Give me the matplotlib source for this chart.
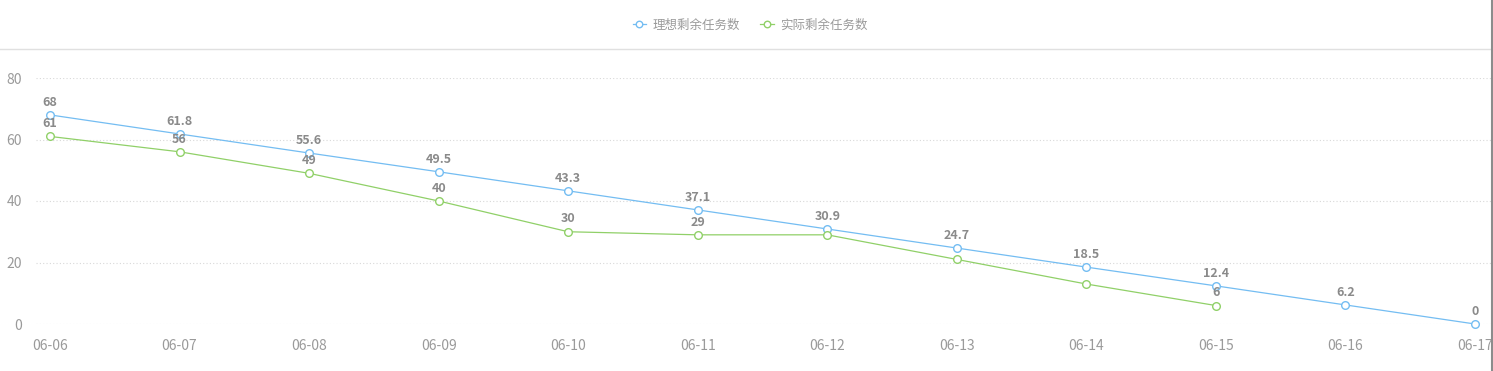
import matplotlib.pyplot as plt
from matplotlib.lines import Line2D

plt.rcParams['font.family'] = ['Noto Sans CJK SC', 'DejaVu Sans']

# ---------------------------------------------------------
# DATA
# ---------------------------------------------------------
dates = ["06-06", "06-07", "06-08", "06-09", "06-10", "06-11",
         "06-12", "06-13", "06-14", "06-15", "06-16", "06-17"]
ideal = [68, 61.8, 55.6, 49.5, 43.3, 37.1, 30.9, 24.7, 18.5, 12.4, 6.2, 0]
actual = [61, 56, 49, 40, 30, 29, 29, 21, 13, 6]
ideal_name = "理想剩余任务数"
actual_name = "实际剩余任务数"
yticks = [0, 20, 40, 60, 80]

# labels of the actual series hidden by the overlapping ideal labels
hidden_actual = [6, 7, 8]

BLUE = "#74bdf2"
GREEN = "#90d068"
LABEL_GRAY = "#8a8a8a"
TICK_GRAY = "#9a9a9a"

W, H = 1493, 371
fig = plt.figure(figsize=(W / 100, H / 100), dpi=100)
ax = fig.add_axes([36 / W, (H - 324) / H, (1491 - 36) / W, (324 - 78) / H])

x_ideal = list(range(len(ideal)))
x_actual = list(range(len(actual)))

for y in yticks:
    ax.axhline(y, color="#d8d8d8", lw=0.8, ls=(0, (1, 2)), zorder=0)

ax.plot(x_ideal, ideal, color=BLUE, lw=0.9, marker="o", ms=5.5,
        mfc="white", mec=BLUE, mew=1.0, clip_on=False, zorder=3,
        label=ideal_name)
ax.plot(x_actual, actual, color=GREEN, lw=0.9, marker="o", ms=5.5,
        mfc="white", mec=GREEN, mew=1.0, clip_on=False, zorder=3,
        label=actual_name)

for xi, v in zip(x_ideal, ideal):
    ax.annotate(f"{v:g}", (xi, v), xytext=(0, 4.5), textcoords="offset points",
                ha="center", va="bottom", fontsize=9, fontweight="bold",
                color=LABEL_GRAY, zorder=4)
for xi, v in zip(x_actual, actual):
    if xi in hidden_actual:
        continue
    ax.annotate(f"{v:g}", (xi, v), xytext=(0, 4.5), textcoords="offset points",
                ha="center", va="bottom", fontsize=9, fontweight="bold",
                color=LABEL_GRAY, zorder=4)

ax.set_xlim(-14 / 129.5, 11 + 16 / 129.5)
ax.set_ylim(0, 80)
ax.set_xticks(x_ideal)
ax.set_xticklabels(dates)
ax.set_yticks(yticks)
ax.tick_params(axis="both", length=0, colors=TICK_GRAY, labelsize=10)
ax.tick_params(axis="x", pad=11)
ax.tick_params(axis="y", pad=10)
for s in ax.spines.values():
    s.set_visible(False)

leg = fig.legend(loc="center", bbox_to_anchor=(750 / W, 1 - 25 / H), ncol=2,
                 frameon=False, fontsize=9, handlelength=1.1,
                 columnspacing=1.6, handletextpad=0.5, markerscale=0.85)
for t in leg.get_texts():
    t.set_color(TICK_GRAY)

# header separator and right border
fig.add_artist(Line2D([0, 1], [1 - 48.5 / H, 1 - 48.5 / H], color="#e0e0e0",
                      lw=1.0, transform=fig.transFigure))
fig.add_artist(Line2D([1491.5 / W, 1491.5 / W], [0, 1], color="#8c8c8c",
                      lw=1.5, transform=fig.transFigure))

fig.savefig("out.png", dpi=100)
